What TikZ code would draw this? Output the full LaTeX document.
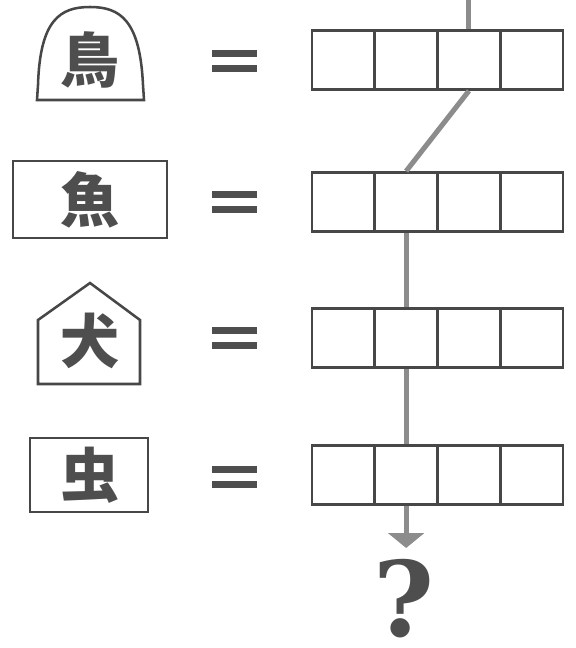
\documentclass[tikz,border=0pt]{standalone}
\usepackage{fontspec}
\usetikzlibrary{arrows.meta}
\newfontfamily\cjk{Noto Sans CJK JP}
\newfontfamily\qfont{DejaVu Serif}
\definecolor{boxgray}{HTML}{474747}
\definecolor{inkgray}{HTML}{4E4E4E}
\definecolor{linkgray}{HTML}{8C8C8C}

\begin{document}
\begin{tikzpicture}[x=0.025cm,y=-0.025cm,
        cell/.style={draw=boxgray, line width=1.8pt, minimum width=1.57cm,
                     minimum height=1.48cm, inner sep=0pt},
        kanji/.style={text=inkgray, font=\cjk\bfseries\fontsize{42}{42}\selectfont},
        frame/.style={draw=boxgray, line width=1.8pt},
        bar/.style={fill=inkgray},
        link/.style={draw=linkgray, line width=3.6pt}]
            \useasboundingbox (0,0) rectangle (575,648);
            % left pieces
            \node[kanji](bird)   at (90,60)  {鳥};
            \node[kanji](fish)   at (90,200) {魚};
            \node[kanji](dog)    at (90,341) {犬};
            \node[kanji](insect) at (90,475) {虫};
            \draw[frame] (37,100) -- (38,85) .. controls (40,20) and (60,7) .. (90,7)
                .. controls (120,7) and (140,20) .. (143,85) -- (144,100) -- cycle;
            \draw[frame] (13,161) rectangle (167,238);
            \draw[frame] (38,384) -- (38,320) -- (90,283) -- (140,320) -- (140,384) -- cycle;
            \draw[frame] (30,438) rectangle (148,512);
            % equals signs
            \foreach \y in {61,202,338,477}
                {
                \fill[bar] (212,\y-11) rectangle (257,\y-4);
                \fill[bar] (212,\y+4) rectangle (257,\y+11);
                }
            % rows of boxes
            \foreach \r/\y in {1/60,2/202,3/338,4/475}
                \foreach \c in {1,...,4}
                    \node[cell](r\r c\c) at ({312+62.75*(\c-0.5)},\y) {};
            \node[text=inkgray, inner sep=0pt, anchor=base,
                  font=\qfont\bfseries\fontsize{74}{74}\selectfont](q) at (404,636) {?};
            \coordinate (top) at (r1c3.north |- 0,0);
            \coordinate (tip) at (r4c2.south |- 0,548);
            \path
                (top)  edge [link] (r1c3.north)
                (r1c3.south) edge [link] (r2c2.north)
                (r2c2.south) edge [link] (r3c2.north)
                (r3c2.south) edge [link] (r4c2.north)
                (r4c2.south) edge [link, -{Triangle[width=25pt,length=10.5pt]}] (tip)
                ;
        \end{tikzpicture}
\end{document}
